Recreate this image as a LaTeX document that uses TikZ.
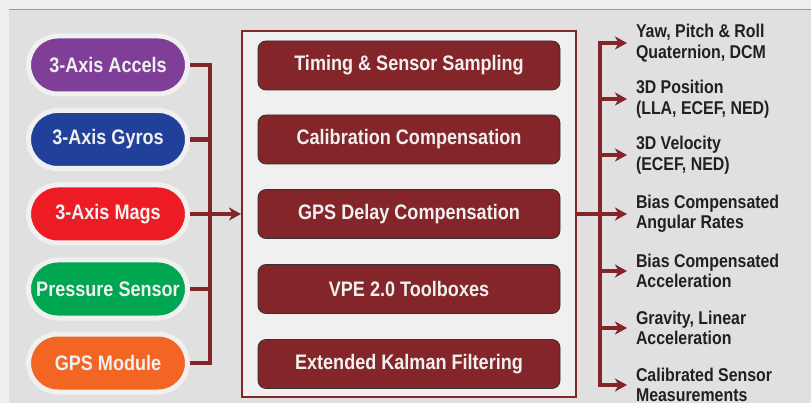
\documentclass[tikz,border=0pt]{standalone}
\usepackage{fontspec}
\setmainfont{Liberation Sans}[FakeStretch=0.86]
\usetikzlibrary{arrows.meta}

\definecolor{wine}{HTML}{842629}
\definecolor{paper}{HTML}{EEEEEE}
\definecolor{panel}{HTML}{E0E0E0}
\definecolor{boxfill}{HTML}{F0F0F0}
\definecolor{rulegrey}{HTML}{9A9A9A}
\definecolor{inkdark}{HTML}{231F20}
\definecolor{acccol}{HTML}{7F3F98}
\definecolor{gyrocol}{HTML}{21409A}
\definecolor{magcol}{HTML}{ED1C24}
\definecolor{prescol}{HTML}{00A651}
\definecolor{gpscol}{HTML}{F26522}

\tikzset{
	wire/.style={draw=wine, line width=4.5pt},
	tip/.style={-{Stealth[length=12pt, width=13pt, inset=3.5pt]}},
	pill/.style={draw=boxfill, line width=5pt, minimum width=159pt, minimum height=58pt,
		rounded corners=29pt, inner sep=0pt, text=boxfill,
		font=\bfseries\fontsize{21}{24}\selectfont},
	stage/.style={draw=black!80, line width=0.8pt, fill=wine, minimum width=302pt,
		minimum height=49pt, rounded corners=8pt, inner sep=0pt, text=boxfill,
		font=\bfseries\fontsize{21}{24}\selectfont},
	result/.style={anchor=west, align=left, inner xsep=9pt, inner ysep=0pt, outer sep=0pt,
		text=inkdark, font=\bfseries\fontsize{18.5}{20.5}\selectfont}
}

\begin{document}
\begin{tikzpicture}[x=1pt, y=-1pt]
	\useasboundingbox (0,0) rectangle (811,403);
	\clip (0,0) rectangle (811,403);
	\fill[paper] (0,0) rectangle (811,403);
	\fill[panel] (9,10) rectangle (811,403);
	\draw[rulegrey, line width=1.5pt] (9,9.5) -- (811,9.5);

	\foreach \name/\col/\y/\txt in {accel/acccol/65/3-Axis Accels, gyro/gyrocol/139.5/3-Axis Gyros,
			mags/magcol/214/3-Axis Mags, press/prescol/289/Pressure Sensor, gps/gpscol/363/GPS Module}
		\node[pill, fill=\col] (\name) at (108,\y) {\txt};

	\node[draw=wine, line width=2pt, fill=boxfill, minimum width=334pt, minimum height=366pt,
		inner sep=0pt] (core) at (409,214) {};
	\foreach \name/\y/\txt in {timing/65.5/Timing \& Sensor Sampling, calib/139.5/Calibration Compensation,
			delay/214/GPS Delay Compensation, vpe/289/VPE 2.0 Toolboxes, ekf/364/Extended Kalman Filtering}
		\node[stage] (\name) at (409,\y) {\txt};

	\foreach \name/\y/\txt in {att/43/{Yaw, Pitch \& Roll\\Quaternion, DCM},
			pos/99/{3D Position\\(LLA, ECEF, NED)},
			vel/155/{3D Velocity\\(ECEF, NED)},
			rate/214/{Bias Compensated\\Angular Rates},
			acc/271/{Bias Compensated\\Acceleration},
			grav/328/{Gravity, Linear\\Acceleration},
			meas/385/{Calibrated Sensor\\Measurements}}
		\node[result] (\name) at (627,\y) {\txt};

	\coordinate (lhub) at (210,214);
	\coordinate (rhub) at (600,214);
	\foreach \name in {accel, gyro, mags, press, gps}
		\draw[wire] (\name.east) -| (lhub);
	\draw[wire, tip] (lhub) -- (core.west);
	\draw[wire] (core.east) -- (rhub);
	\foreach \name in {att, pos, vel, rate, acc, grav, meas}
		\draw[wire, tip] (rhub) |- (\name.west);
\end{tikzpicture}
\end{document}
